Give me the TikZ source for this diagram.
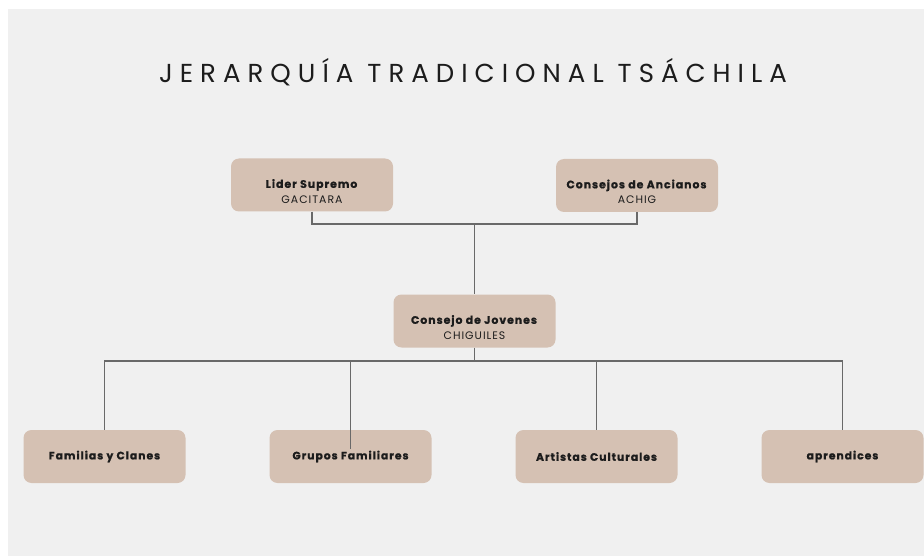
\documentclass[tikz,border=0pt]{standalone}
\usepackage{fontspec}
\setmainfont{Poppins}
\newfontfamily\titlefont[LetterSpace=27]{Poppins}
\newfontfamily\boxfont[LetterSpace=9, BoldFeatures={FakeBold=1}]{Poppins}
\usepackage{tikz}
\usetikzlibrary{positioning}

\definecolor{boxtan}{RGB}{213,193,179}
\definecolor{paper}{RGB}{240,240,240}
\definecolor{wire}{RGB}{105,105,105}
\definecolor{ink}{RGB}{28,28,28}

% two-line label, sitting a little low in its box
\newcommand{\rolelabel}[2]{\raisebox{-7.5pt}[\height][\depth]{\begin{tabular}{@{}c@{}}\textbf{#1}\\#2\end{tabular}}}

\begin{document}
\begin{tikzpicture}[x=1pt, y=-1pt, node distance=246pt,
    rolebox/.style={rectangle, rounded corners=8pt, fill=boxtan, minimum width=162pt,
        minimum height=53pt, align=center, text=ink, font=\boxfont\fontsize{10.9}{15.5}\selectfont},
    groupbox/.style={rolebox, font=\boxfont\bfseries\fontsize{10.8}{15}\selectfont},
    link/.style={draw=wire, line width=1.3pt}]
    \useasboundingbox (0,0) rectangle (924,556);
    \fill[white] (0,0) rectangle (924,556);
    \fill[paper] (8,9) rectangle (924,556);

    % title
    \node[font=\titlefont\fontsize{26}{30}\selectfont, text=ink] (title) at (473,72) {JERARQUÍA TRADICIONAL TSÁCHILA};

    % top levels
    \node[rolebox] (lider) at (312,185) {\rolelabel{Lider Supremo}{GACITARA}};
    \node[rolebox] (consejos) at (637,185.5) {\rolelabel{Consejos de Ancianos}{ACHIG}};
    \node[rolebox] (jovenes) at (474.5,321) {\rolelabel{Consejo de Jovenes}{CHIGUILES}};

    % bottom row
    \node[groupbox] (familias) at (104.5,456.5) {Familias y Clanes};
    \node[groupbox] (grupos) [right of=familias] {Grupos Familiares};
    \node[groupbox] (artistas) [right of=grupos] {Artistas Culturales};
    \node[groupbox] (aprend) [right of=artistas] {aprendices};

    \coordinate (upper) at (0,224);
    \coordinate (lower) at (0,361);

    \draw[link] (lider.south) -- (lider.south |- upper) -- (consejos.south |- upper) -- (consejos.south);
    \draw[link] (jovenes.north |- upper) -- (jovenes.north);
    \draw[link] (jovenes.south) -- (jovenes.south |- lower);
    \draw[link] (familias.north) -- (familias.north |- lower) -- (aprend.north |- lower) -- (aprend.north);
    \draw[link] (grupos.north |- lower) -- ([yshift=-19pt]grupos.north);
    \draw[link] (artistas.north |- lower) -- (artistas.north);
\end{tikzpicture}
\end{document}
